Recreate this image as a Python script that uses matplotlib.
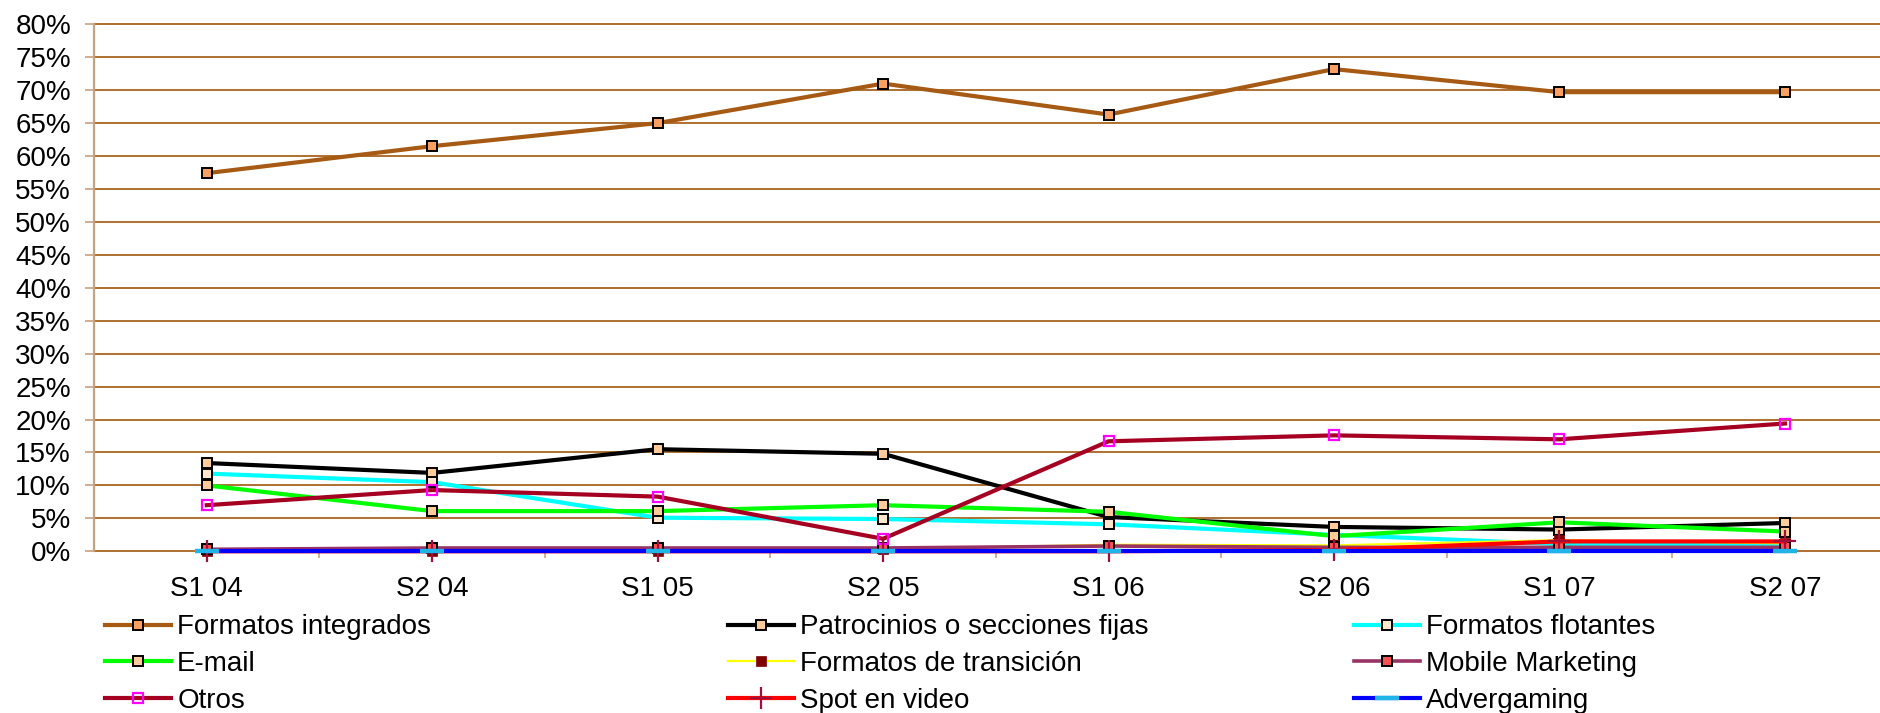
import numpy as np
import matplotlib
matplotlib.use("Agg")
import matplotlib.pyplot as plt
from matplotlib.ticker import FixedLocator, FuncFormatter

plt.rcParams['font.family'] = ['Liberation Sans', 'DejaVu Sans']

# Datos (porcentaje por semestre)
periodos = ["S1 04", "S2 04", "S1 05", "S2 05", "S1 06", "S2 06", "S1 07", "S2 07"]

formatos_integrados = [57.4, 61.5, 65.0, 71.0, 66.3, 73.2, 69.7, 69.7]
patrocinios = [13.4, 11.9, 15.5, 14.8, 5.2, 3.7, 3.3, 4.3]
formatos_flotantes = [11.8, 10.5, 5.1, 4.9, 4.1, 2.5, 1.1, 1.0]
email = [10.0, 6.1, 6.1, 7.0, 6.0, 2.3, 4.4, 3.0]
formatos_transicion = [0.0, 0.0, 0.0, 0.3, 1.0, 0.9, 1.7, 1.2]
mobile_marketing = [0.3, 0.5, 0.5, 0.5, 0.8, 0.6, 0.6, 0.6]
otros = [7.0, 9.3, 8.3, 1.9, 16.7, 17.6, 17.0, 19.4]
spot_video = [0.0, 0.0, 0.0, 0.0, 0.0, 0.2, 1.5, 1.5]
advergaming = [0.0, 0.0, 0.0, 0.0, 0.0, 0.0, 0.0, 0.0]

W, H = 1881, 713
fig = plt.figure(figsize=(W / 100, H / 100), dpi=100)
fig.patch.set_facecolor('white')

# Área de trazado en píxeles
left_px, right_px, top_px, bottom_px = 94, 1881, 24.3, 551.3
ax = fig.add_axes([left_px / W, 1 - bottom_px / H,
                   (right_px - left_px) / W, (bottom_px - top_px) / H])

x = np.arange(len(periodos))
ms = 7.2  # tamaño de los cuadrados

series = [
    ("Formatos integrados", formatos_integrados,
     dict(color='#A65A14', lw=3, marker='s', ms=ms, mfc='#FBA060', mec='black', mew=1.4)),
    ("Patrocinios o secciones fijas", patrocinios,
     dict(color='black', lw=3, marker='s', ms=ms, mfc='#FFCC99', mec='black', mew=1.4)),
    ("Formatos flotantes", formatos_flotantes,
     dict(color='#00FFFF', lw=3, marker='s', ms=ms, mfc='#FFE6CC', mec='black', mew=1.4)),
    ("E-mail", email,
     dict(color='#00FF00', lw=3, marker='s', ms=ms, mfc='#FFCC99', mec='black', mew=1.4)),
    ("Formatos de transición", formatos_transicion,
     dict(color='#FFFF00', lw=1.6, marker='s', ms=ms, mfc='#800000', mec='#800000', mew=0.5)),
    ("Mobile Marketing", mobile_marketing,
     dict(color='#993366', lw=2.6, marker='s', ms=6.5, mfc='#FF5050', mec='black', mew=1.4)),
    ("Otros", otros,
     dict(color='#A50021', lw=3, marker='s', ms=ms, mfc='none', mec='#FF00FF', mew=1.6)),
    ("Spot en video", spot_video,
     dict(color='#FF0000', lw=3, marker='+', ms=16, mec='#A0103A', mew=1.6)),
    ("Advergaming", advergaming,
     dict(color='#0000FF', lw=3, marker='_', ms=17, mec='#1FB5E8', mew=3.2)),
]

handles = []
for i, (label, vals, style) in enumerate(series):
    ln, = ax.plot(x, vals, label=label, zorder=3 + i, clip_on=False, **style)
    handles.append(ln)

# Ejes y cuadrícula
ax.set_xlim(-0.5, (right_px - 205.7) / 225.6)
ax.set_ylim(0, 80)
grid_col = '#A8641E'
tan_col = '#C8A27C'
yticks = np.arange(0, 81, 5)
ax.yaxis.set_major_locator(FixedLocator(yticks))
ax.yaxis.set_major_formatter(FuncFormatter(lambda v, p: f"{int(v)}%"))
for v in yticks:
    ax.axhline(v, color=grid_col, lw=1.3, zorder=1, clip_on=False)

for s in ['top', 'right', 'bottom']:
    ax.spines[s].set_visible(False)
ax.spines['left'].set_color(tan_col)
ax.spines['left'].set_linewidth(1.6)

ax.tick_params(axis='y', length=6.5, width=1.2, color=tan_col, pad=10,
               labelsize=20, labelcolor='black')
ax.set_xticks(x)
ax.set_xticklabels(periodos)
ax.set_xticks(np.arange(0.5, 7.5, 1), minor=True)
ax.tick_params(axis='x', which='major', length=0, pad=18, labelsize=20)
ax.tick_params(axis='x', which='minor', length=5, width=1.2, color=tan_col)

# Leyenda en tres columnas
cols = [(105, [0, 3, 6]), (728, [1, 4, 7]), (1354, [2, 5, 8])]
for xpx, idx in cols:
    leg = fig.legend([handles[k] for k in idx], [series[k][0] for k in idx],
                     loc='center left', bbox_to_anchor=(xpx / W, 1 - 664 / H),
                     frameon=False, fontsize=20, borderpad=0, borderaxespad=0,
                     handlelength=2.38, handletextpad=0.22, labelspacing=0.38,
                     numpoints=1)

fig.savefig("out.png", dpi=100)
